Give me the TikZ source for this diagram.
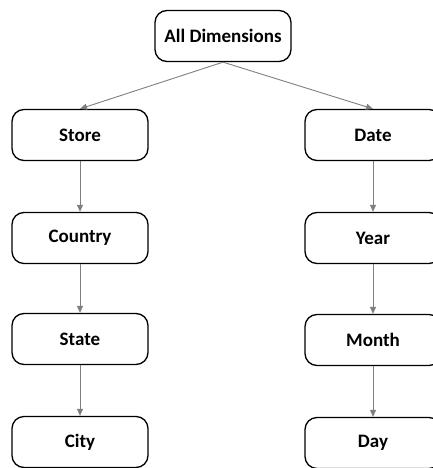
\documentclass[tikz,border=0pt]{standalone}
\usepackage{fontspec}
\setmainfont{Carlito}
\usetikzlibrary{arrows.meta}
\definecolor{linkgray}{HTML}{7F7F7F}
\tikzset{
  dimbox/.style={draw=black, line width=1.3pt, rounded corners=12pt,
    minimum width=136pt, minimum height=51pt, inner sep=0pt,
    font=\fontsize{19}{22}\selectfont\bfseries, fill=white},
  link/.style={draw=linkgray, line width=0.9pt,
    -{Triangle[length=7pt,width=6pt]}}
}
\begin{document}
\begin{tikzpicture}[x=1pt,y=-1pt]
\useasboundingbox (0,0) rectangle (433,468);
\clip (0,0) rectangle (433,468);
\node[dimbox] (all) at (223,36) {All Dimensions};
\node[dimbox] (store) at (80,135) {Store};
\node[dimbox] (country) at (80,238) {Country};
\node[dimbox] (state) at (80,339) {State};
\node[dimbox] (city) at (80,442) {City};
\node[dimbox] (date) at (373,135) {Date};
\node[dimbox] (year) at (373,238) {Year};
\node[dimbox] (month) at (373,340) {Month};
\node[dimbox] (day) at (373,443) {Day};
\draw[link] (all.south) -- (store.north);
\draw[link] (all.south) -- (date.north);
\draw[link] (store) -- (country);
\draw[link] (country) -- (state);
\draw[link] (state) -- (city);
\draw[link] (date) -- (year);
\draw[link] (year) -- (month);
\draw[link] (month) -- (day);
\end{tikzpicture}
\end{document}
